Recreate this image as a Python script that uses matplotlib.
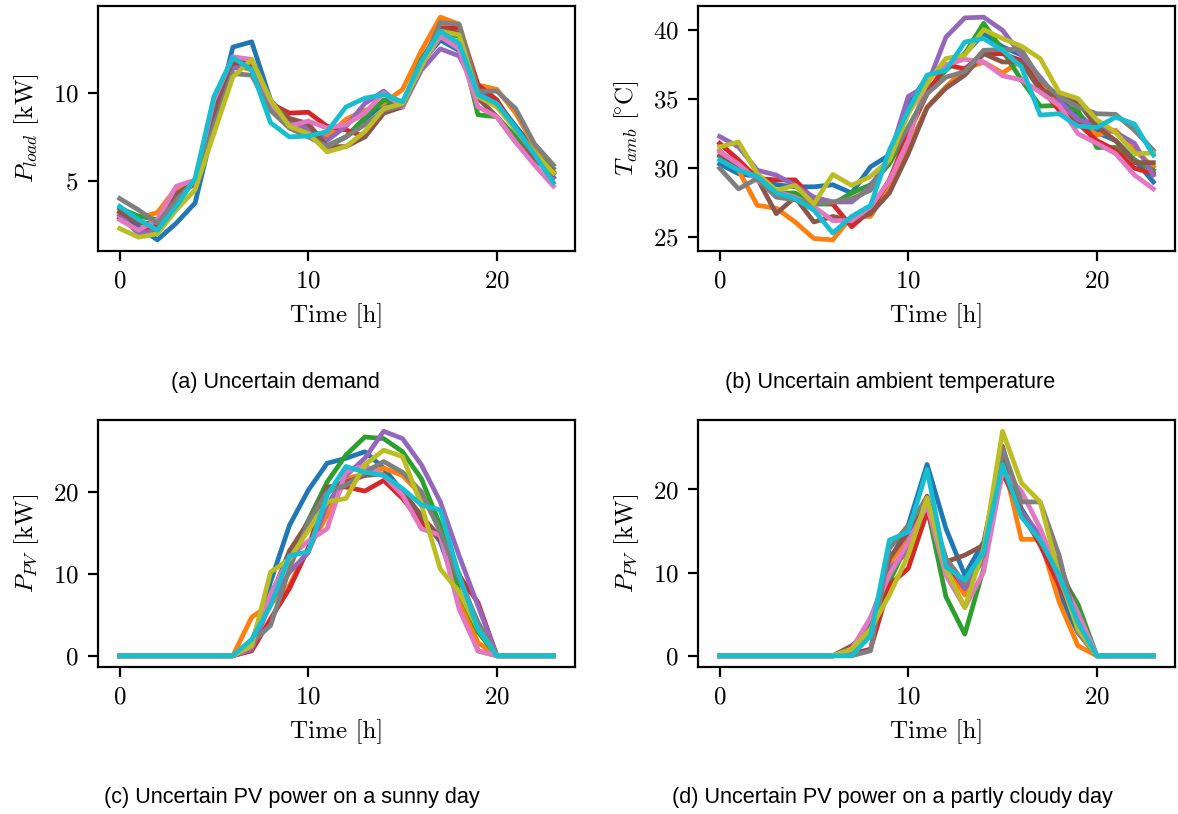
import matplotlib
matplotlib.use('Agg')
import matplotlib.pyplot as plt
import numpy as np

plt.rcParams['font.family'] = 'serif'
plt.rcParams['font.serif'] = ['cmr10']
plt.rcParams['mathtext.fontset'] = 'cm'
plt.rcParams['axes.formatter.use_mathtext'] = True
plt.rcParams['font.size'] = 9
plt.rcParams['lines.linewidth'] = 1.7

hours = np.arange(24)

# uncertain demand [kW], 10 scenarios
load_s0 = [3.2, 2.4, 1.65, 2.6, 3.75, 8.2, 12.6, 12.9, 9.6, 8.3, 8.1, 6.95, 7.5, 8.5, 9.4, 9.4, 11.7, 13.0, 12.4, 10.0, 9.5, 8.1, 6.8, 5.2]
load_s1 = [3.2, 2.9, 3.2, 4.6, 5.0, 9.0, 11.6, 11.3, 9.2, 8.1, 7.9, 7.5, 8.5, 9.0, 9.4, 10.2, 12.4, 14.3, 13.9, 10.45, 10.2, 8.85, 6.95, 5.45]
load_s2 = [3.45, 3.0, 2.8, 4.2, 5.0, 9.3, 11.6, 11.5, 9.3, 8.2, 7.9, 7.0, 7.5, 8.6, 9.6, 9.4, 11.9, 13.5, 13.2, 8.75, 8.65, 7.5, 6.5, 5.7]
load_s3 = [2.9, 2.2, 2.4, 4.0, 5.0, 9.0, 11.8, 11.4, 9.4, 8.85, 8.9, 8.1, 7.9, 7.5, 8.9, 9.3, 11.8, 13.7, 13.7, 10.45, 9.6, 7.9, 6.5, 5.5]
load_s4 = [3.05, 2.0, 2.2, 3.9, 5.0, 9.2, 11.4, 11.5, 9.2, 8.3, 8.0, 7.3, 8.1, 9.4, 10.1, 9.2, 11.3, 12.5, 12.1, 10.0, 9.3, 7.9, 6.5, 5.2]
load_s5 = [3.25, 2.6, 2.6, 4.3, 4.8, 9.0, 11.9, 11.6, 9.5, 8.55, 8.25, 6.95, 6.95, 7.5, 8.85, 9.2, 11.6, 13.6, 13.4, 9.7, 8.65, 7.2, 6.2, 5.4]
load_s6 = [2.8, 2.2, 2.8, 4.7, 5.05, 9.6, 12.05, 11.9, 9.4, 8.1, 8.4, 8.0, 8.2, 8.85, 10.0, 9.2, 11.6, 13.2, 12.5, 9.2, 8.65, 7.2, 5.9, 4.7]
load_s7 = [4.0, 3.35, 2.6, 3.9, 5.05, 8.1, 11.1, 11.0, 9.0, 8.0, 7.5, 6.95, 7.5, 8.2, 9.0, 9.3, 11.5, 14.0, 13.9, 10.1, 10.1, 9.1, 7.1, 5.9]
load_s8 = [2.3, 1.8, 2.0, 3.35, 4.5, 7.7, 10.9, 11.9, 9.6, 8.1, 7.7, 6.65, 6.95, 7.8, 9.1, 9.4, 11.5, 13.5, 13.3, 9.8, 9.2, 7.9, 6.6, 5.45]
load_s9 = [3.55, 2.8, 2.2, 3.55, 5.15, 9.8, 12.0, 11.3, 8.3, 7.5, 7.55, 7.8, 9.2, 9.7, 9.9, 9.5, 11.8, 13.5, 12.8, 9.9, 9.4, 8.0, 6.5, 4.9]

# uncertain ambient temperature [C]
temp_s0 = [30.3, 29.6, 29.4, 28.8, 28.65, 28.65, 28.8, 28.2, 30.1, 30.95, 34.6, 36.6, 37.3, 38.3, 39.75, 38.8, 38.2, 36.1, 34.9, 34.0, 32.6, 32.0, 30.6, 29.0]
temp_s1 = [31.3, 29.85, 27.3, 27.1, 26.1, 24.9, 24.8, 26.5, 26.5, 28.65, 31.5, 34.4, 35.9, 37.2, 37.7, 36.9, 37.8, 36.1, 34.8, 33.5, 32.4, 32.75, 31.3, 30.1]
temp_s2 = [30.9, 30.3, 29.4, 28.2, 28.2, 27.4, 27.4, 28.2, 28.8, 30.3, 32.75, 35.65, 37.1, 38.3, 40.5, 38.55, 36.4, 34.5, 34.55, 34.2, 31.5, 31.5, 30.6, 29.85]
temp_s3 = [31.8, 30.6, 29.25, 29.15, 29.15, 27.7, 27.4, 25.75, 26.95, 29.15, 32.5, 35.4, 37.5, 37.2, 38.3, 38.3, 37.8, 35.9, 34.2, 33.25, 32.0, 31.3, 30.0, 29.6]
temp_s4 = [32.3, 31.55, 29.85, 29.5, 28.75, 27.9, 27.55, 27.55, 28.65, 30.8, 35.2, 36.0, 39.5, 40.9, 40.95, 40.0, 38.2, 36.6, 34.9, 33.5, 33.2, 32.6, 31.8, 29.5]
temp_s5 = [30.9, 30.1, 29.25, 26.7, 27.9, 26.1, 26.5, 26.2, 26.7, 28.2, 31.05, 34.4, 35.8, 36.75, 38.3, 37.7, 37.7, 35.65, 35.2, 34.8, 33.0, 32.0, 30.4, 30.4]
temp_s6 = [31.2, 30.3, 29.1, 28.3, 27.9, 27.2, 26.2, 26.2, 27.2, 29.1, 32.0, 36.4, 37.5, 37.9, 37.7, 36.7, 36.4, 35.5, 34.55, 32.5, 31.8, 31.05, 29.5, 28.5]
temp_s7 = [30.0, 28.5, 29.25, 27.9, 27.7, 27.4, 27.55, 27.8, 28.4, 30.6, 33.0, 35.4, 36.6, 37.0, 38.55, 38.6, 38.6, 36.4, 35.2, 34.45, 33.95, 33.9, 32.75, 31.3]
temp_s8 = [31.55, 31.9, 29.6, 28.4, 28.75, 27.4, 29.55, 28.75, 29.4, 30.6, 33.95, 36.15, 37.95, 38.2, 40.05, 39.4, 38.85, 37.95, 35.5, 35.05, 33.5, 32.6, 31.05, 31.1]
temp_s9 = [30.6, 29.85, 29.4, 28.2, 27.8, 26.95, 25.3, 26.5, 27.3, 31.3, 34.2, 36.75, 37.1, 39.15, 39.4, 38.55, 37.35, 33.85, 33.95, 33.05, 32.95, 33.7, 33.2, 30.95]

# PV power, sunny day [kW]
sun_s0 = [0, 0, 0, 0, 0, 0, 0, 1.5, 9.0, 15.9, 20.2, 23.5, 24.1, 24.9, 22.9, 20.0, 17.1, 13.9, 7.5, 0.6, 0, 0, 0, 0]
sun_s1 = [0, 0, 0, 0, 0, 0, 0, 4.7, 6.3, 8.6, 13.1, 17.1, 21.6, 22.2, 22.9, 22.0, 19.6, 15.5, 6.9, 1.6, 0, 0, 0, 0]
sun_s2 = [0, 0, 0, 0, 0, 0, 0, 1.0, 7.5, 12.0, 16.5, 21.2, 24.5, 26.7, 26.5, 24.9, 21.6, 15.9, 7.8, 2.9, 0, 0, 0, 0]
sun_s3 = [0, 0, 0, 0, 0, 0, 0, 0.6, 4.5, 8.2, 13.1, 20.6, 20.6, 20.1, 21.4, 19.2, 16.3, 14.3, 9.8, 6.5, 0, 0, 0, 0]
sun_s4 = [0, 0, 0, 0, 0, 0, 0, 0.8, 6.5, 10.2, 12.6, 18.4, 22.0, 24.1, 27.4, 26.5, 23.3, 18.8, 12.2, 6.1, 0, 0, 0, 0]
sun_s5 = [0, 0, 0, 0, 0, 0, 0, 1.5, 7.0, 12.8, 16.3, 20.5, 21.2, 22.0, 22.2, 20.0, 17.0, 14.5, 10.0, 3.5, 0, 0, 0, 0]
sun_s6 = [0, 0, 0, 0, 0, 0, 0, 1.5, 7.5, 12.0, 14.0, 15.5, 22.5, 23.2, 22.0, 19.6, 15.5, 14.7, 5.7, 0.6, 0, 0, 0, 0]
sun_s7 = [0, 0, 0, 0, 0, 0, 0, 1.6, 3.7, 10.6, 16.3, 20.0, 20.8, 22.4, 23.7, 22.4, 20.0, 15.1, 9.4, 4.1, 0, 0, 0, 0]
sun_s8 = [0, 0, 0, 0, 0, 0, 0, 1.2, 10.2, 11.8, 15.3, 18.8, 19.2, 23.3, 25.1, 24.3, 18.4, 10.6, 7.8, 3.3, 0, 0, 0, 0]
sun_s9 = [0, 0, 0, 0, 0, 0, 0, 2.0, 6.1, 12.2, 12.7, 19.6, 23.1, 22.4, 22.0, 20.4, 18.4, 17.8, 9.8, 3.3, 0, 0, 0, 0]

# PV power, partly cloudy day [kW]
cloud_s0 = [0, 0, 0, 0, 0, 0, 0, 0.3, 2.8, 11.3, 15.7, 23.0, 15.3, 9.7, 13.7, 23.8, 17.7, 14.1, 7.3, 2.8, 0, 0, 0, 0]
cloud_s1 = [0, 0, 0, 0, 0, 0, 0, 0.4, 3.5, 11.0, 14.5, 18.1, 10.9, 7.3, 12.1, 23.8, 14.0, 14.0, 6.5, 1.2, 0, 0, 0, 0]
cloud_s2 = [0, 0, 0, 0, 0, 0, 0, 0.6, 4.0, 8.9, 13.7, 17.9, 7.1, 2.6, 10.5, 23.8, 17.3, 13.7, 10.1, 6.2, 0, 0, 0, 0]
cloud_s3 = [0, 0, 0, 0, 0, 0, 0, 0.2, 0.8, 8.5, 10.5, 17.3, 11.3, 8.1, 12.1, 22.0, 17.3, 13.3, 8.5, 4.0, 0, 0, 0, 0]
cloud_s4 = [0, 0, 0, 0, 0, 0, 0, 0.5, 4.5, 10.5, 12.5, 18.5, 11.7, 8.1, 11.7, 25.0, 17.3, 14.5, 9.3, 4.0, 0, 0, 0, 0]
cloud_s5 = [0, 0, 0, 0, 0, 0, 0, 1.2, 3.2, 11.7, 14.9, 19.2, 11.3, 12.1, 13.3, 25.2, 16.9, 13.7, 11.3, 4.8, 0, 0, 0, 0]
cloud_s6 = [0, 0, 0, 0, 0, 0, 0, 0.8, 4.6, 9.7, 13.7, 18.1, 9.7, 5.8, 10.1, 22.2, 19.8, 15.3, 9.7, 5.2, 0, 0, 0, 0]
cloud_s7 = [0, 0, 0, 0, 0, 0, 0, 0, 0.6, 12.9, 15.7, 19.0, 11.7, 8.7, 12.1, 25.0, 18.5, 18.5, 12.1, 2.8, 0, 0, 0, 0]
cloud_s8 = [0, 0, 0, 0, 0, 0, 0, 0.8, 3.2, 7.3, 12.1, 19.0, 10.5, 5.8, 12.9, 27.0, 20.8, 18.5, 9.7, 3.2, 0, 0, 0, 0]
cloud_s9 = [0, 0, 0, 0, 0, 0, 0, 0, 2.4, 13.9, 14.9, 22.4, 10.7, 9.1, 12.5, 23.0, 16.7, 13.9, 9.7, 4.0, 0, 0, 0, 0]

load = [load_s0, load_s1, load_s2, load_s3, load_s4, load_s5, load_s6, load_s7, load_s8, load_s9]
temp = [temp_s0, temp_s1, temp_s2, temp_s3, temp_s4, temp_s5, temp_s6, temp_s7, temp_s8, temp_s9]
sunny = [sun_s0, sun_s1, sun_s2, sun_s3, sun_s4, sun_s5, sun_s6, sun_s7, sun_s8, sun_s9]
cloudy = [cloud_s0, cloud_s1, cloud_s2, cloud_s3, cloud_s4, cloud_s5, cloud_s6, cloud_s7, cloud_s8, cloud_s9]

fig = plt.figure(figsize=(5.89, 4.07), dpi=200)

panels = [
    (load, [0.0832, 0.6916, 0.405, 0.301], r'$P_{load}$ [kW]', [5, 10],
     '(a) Uncertain demand', (0.2335, 0.5235)),
    (temp, [0.5925, 0.6916, 0.405, 0.301], r'$T_{amb}$ [$\!^{\circ}$C]', [25, 30, 35, 40],
     '(b) Uncertain ambient temperature', (0.7555, 0.5235)),
    (sunny, [0.0832, 0.1806, 0.405, 0.3034], r'$P_{PV}$ [kW]', [0, 10, 20],
     '(c) Uncertain PV power on a sunny day', (0.248, 0.0135)),
    (cloudy, [0.5925, 0.1806, 0.405, 0.3034], r'$P_{PV}$ [kW]', [0, 10, 20],
     '(d) Uncertain PV power on a partly cloudy day', (0.7575, 0.0135)),
]

for series, pos, ylab, yt, cap, cpos in panels:
    ax = fig.add_axes(pos)
    for s in series:
        ax.plot(hours, s)
    ax.set_xticks([0, 10, 20])
    ax.set_yticks(yt)
    ax.set_xlabel('Time [h]')
    ax.set_ylabel(ylab)
    fig.text(cpos[0], cpos[1], cap, ha='center', va='baseline',
             family='Liberation Sans', fontsize=7.8)

fig.savefig('out.png', dpi=200)
